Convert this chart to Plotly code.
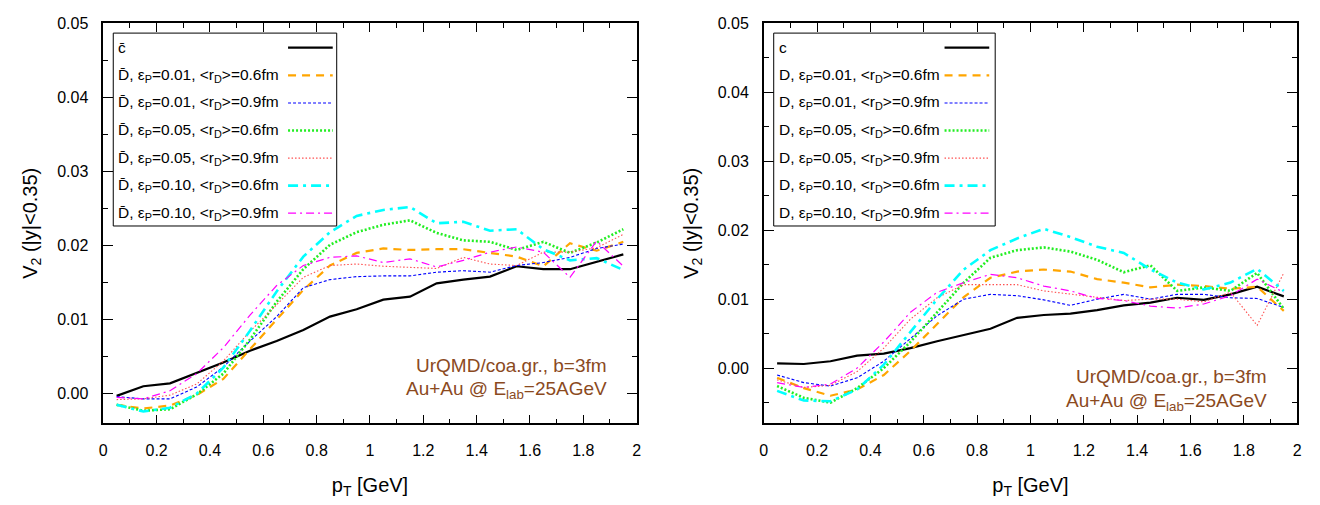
import plotly.graph_objects as go

pt = [0.05, 0.15, 0.25, 0.35, 0.45, 0.55, 0.65, 0.75, 0.85, 0.95,
      1.05, 1.15, 1.25, 1.35, 1.45, 1.55, 1.65, 1.75, 1.85, 1.95]

# Left panel: anti-charm / D-bar
cbar = [-0.0003, 0.0010, 0.0014, 0.0028, 0.0042, 0.0058, 0.0071, 0.0086, 0.0104, 0.0114,
        0.0127, 0.0131, 0.0149, 0.0154, 0.0158, 0.0172, 0.0168, 0.0168, 0.0178, 0.0188]
dbar_e01_r06 = [-0.0015, -0.0020, -0.0016, -0.0002, 0.0020, 0.0060, 0.0100, 0.0140, 0.0173, 0.0190,
                0.0196, 0.0194, 0.0195, 0.0195, 0.0190, 0.0185, 0.0172, 0.0203, 0.0193, 0.0205]
dbar_e01_r09 = [-0.0004, -0.0007, -0.0007, 0.0009, 0.0036, 0.0071, 0.0104, 0.0143, 0.0154, 0.0158,
                0.0159, 0.0159, 0.0164, 0.0166, 0.0164, 0.0173, 0.0177, 0.0184, 0.0196, 0.0202]
dbar_e05_r06 = [-0.0015, -0.0023, -0.0021, -0.0001, 0.0027, 0.0073, 0.0124, 0.0168, 0.0201, 0.0218,
                0.0228, 0.0234, 0.0217, 0.0207, 0.0205, 0.0194, 0.0205, 0.0190, 0.0204, 0.0222]
dbar_e05_r09 = [-0.0008, -0.0007, -0.0002, 0.0013, 0.0044, 0.0084, 0.0120, 0.0157, 0.0173, 0.0175,
                0.0172, 0.0171, 0.0169, 0.0184, 0.0175, 0.0173, 0.0191, 0.0191, 0.0197, 0.0215]
dbar_e10_r06 = [-0.0015, -0.0024, -0.0019, 0.0000, 0.0035, 0.0085, 0.0138, 0.0185, 0.0218, 0.0240,
                0.0248, 0.0252, 0.0230, 0.0232, 0.0220, 0.0222, 0.0195, 0.0180, 0.0183, 0.0167]
dbar_e10_r09 = [-0.0005, -0.0007, 0.0004, 0.0027, 0.0062, 0.0106, 0.0146, 0.0173, 0.0184, 0.0186,
                0.0177, 0.0182, 0.0171, 0.0180, 0.0191, 0.0198, 0.0191, 0.0157, 0.0206, 0.0172]

# Right panel: charm / D
c_q = [0.0007, 0.0006, 0.0010, 0.0018, 0.0021, 0.0029, 0.0039, 0.0048, 0.0057, 0.0073,
       0.0077, 0.0079, 0.0084, 0.0091, 0.0095, 0.0102, 0.0099, 0.0107, 0.0118, 0.0104]
d_e01_r06 = [-0.0014, -0.0029, -0.0040, -0.0031, -0.0010, 0.0025, 0.0064, 0.0103, 0.0131, 0.0140,
             0.0143, 0.0140, 0.0129, 0.0124, 0.0117, 0.0121, 0.0119, 0.0115, 0.0118, 0.0083]
d_e01_r09 = [-0.0010, -0.0021, -0.0026, -0.0014, 0.0010, 0.0043, 0.0076, 0.0100, 0.0107, 0.0105,
             0.0099, 0.0091, 0.0100, 0.0107, 0.0100, 0.0107, 0.0107, 0.0102, 0.0101, 0.0088]
d_e05_r06 = [-0.0026, -0.0043, -0.0050, -0.0029, 0.0000, 0.0038, 0.0081, 0.0124, 0.0160, 0.0171,
             0.0175, 0.0169, 0.0157, 0.0139, 0.0149, 0.0112, 0.0117, 0.0112, 0.0138, 0.0086]
d_e05_r09 = [-0.0017, -0.0028, -0.0025, -0.0005, 0.0029, 0.0071, 0.0102, 0.0121, 0.0121, 0.0121,
             0.0112, 0.0107, 0.0102, 0.0098, 0.0100, 0.0100, 0.0096, 0.0110, 0.0062, 0.0138]
d_e10_r06 = [-0.0033, -0.0047, -0.0048, -0.0031, 0.0005, 0.0052, 0.0100, 0.0143, 0.0171, 0.0188,
             0.0202, 0.0190, 0.0176, 0.0167, 0.0143, 0.0124, 0.0114, 0.0124, 0.0144, 0.0112]
d_e10_r09 = [-0.0021, -0.0028, -0.0023, 0.0000, 0.0038, 0.0081, 0.0110, 0.0124, 0.0136, 0.0131,
             0.0119, 0.0112, 0.0101, 0.0098, 0.0090, 0.0087, 0.0093, 0.0105, 0.0129, 0.0110]

eps_labels = ["0.01", "0.01", "0.05", "0.05", "0.10", "0.10"]
rd_labels = ["0.6", "0.9", "0.6", "0.9", "0.6", "0.9"]

styles = [
    dict(color="black", width=2.2, dash="solid"),
    dict(color="#FFA500", width=2.2, dash="8px,6px"),
    dict(color="#0000FF", width=1.1, dash="3px,2px"),
    dict(color="#22EE22", width=2.6, dash="2px,2px"),
    dict(color="#FF5050", width=1.1, dash="1.5px,2px"),
    dict(color="#00FFFF", width=2.6, dash="10px,5px,3px,5px"),
    dict(color="#FF00FF", width=1.2, dash="8px,4px,2px,4px"),
]

left_series = [cbar, dbar_e01_r06, dbar_e01_r09, dbar_e05_r06, dbar_e05_r09, dbar_e10_r06, dbar_e10_r09]
right_series = [c_q, d_e01_r06, d_e01_r09, d_e05_r06, d_e05_r09, d_e10_r06, d_e10_r09]


def names(particle, quark):
    out = [quark]
    for e, r in zip(eps_labels, rd_labels):
        out.append(f"{particle}, ε<sub>P</sub>={e}, &lt;r<sub>D</sub>&gt;={r}fm")
    return out


left_names = names("D\u0304", "c\u0304")
right_names = names("D", "c")

fig = go.Figure()
for i, (ys, nm) in enumerate(zip(left_series, left_names)):
    fig.add_trace(go.Scatter(x=pt, y=ys, mode="lines", name=nm, line=styles[i],
                             xaxis="x", yaxis="y", showlegend=False))
for i, (ys, nm) in enumerate(zip(right_series, right_names)):
    fig.add_trace(go.Scatter(x=pt, y=ys, mode="lines", name=nm, line=styles[i],
                             xaxis="x2", yaxis="y2", showlegend=False))

W, H = 1320, 505
ytop, ybot = 15.5, 422
ydom = [1 - ybot / H, 1 - ytop / H]
font = "Liberation Sans, Arial, Helvetica, sans-serif"
xdom1 = [100 / W, 637 / W]
xdom2 = [765 / W, 1302 / W]


def xaxis(dom, anchor):
    return dict(domain=dom, range=[0, 2], dtick=0.2, tick0=0, ticks="inside", ticklen=9,
                tickwidth=1, tickcolor="black", mirror="allticks", showline=True, anchor=anchor,
                linecolor="black", linewidth=1.5, showgrid=False, zeroline=False,
                minor=dict(dtick=0.1, ticks="inside", ticklen=5, tickcolor="black", showgrid=False),
                tickfont=dict(size=16, family=font, color="black"),
                ticklabelstandoff=12,
                title=dict(text="p<sub>T</sub> [GeV]", font=dict(size=20, family=font, color="black"),
                           standoff=20))


def yaxis(dom, lo, anchor):
    return dict(domain=dom, range=[lo, 0.05], dtick=0.01, tick0=0, tickformat=".2f",
                ticks="inside", ticklen=10, tickwidth=1, tickcolor="black", mirror="allticks",
                showline=True, linecolor="black", linewidth=1.5, showgrid=False, zeroline=False,
                minor=dict(dtick=0.005, ticks="inside", ticklen=5, tickcolor="black", showgrid=False),
                tickfont=dict(size=16, family=font, color="black"), anchor=anchor,
                ticklabelstandoff=10,
                title=dict(text="V<sub>2</sub> (|y|&lt;0.35)", font=dict(size=20, family=font, color="black"),
                           standoff=14))


def mirror_x(base, lo_anchor):
    return dict(overlaying=base, side="top", anchor=lo_anchor, range=[0, 2], dtick=0.1, tick0=0,
                ticks="inside", ticklen=5, tickcolor="black", showticklabels=False,
                showline=False, showgrid=False, zeroline=False)


def mirror_y(base, anchor, lo):
    return dict(overlaying=base, side="right", anchor=anchor, range=[lo, 0.05], dtick=0.005, tick0=0,
                ticks="inside", ticklen=5, tickcolor="black", showticklabels=False,
                showline=False, showgrid=False, zeroline=False)


brown = "#8B4A1E"
ann = []
shapes = []
for xr, yr, y1, y2 in [("x domain", "y domain", 0.145, 0.083), ("x2 domain", "y2 domain", 0.116, 0.054)]:
    ann.append(dict(text="UrQMD/coa.gr., b=3fm", xref=xr, yref=yr, x=0.948, y=y1,
                    xanchor="right", yanchor="middle", showarrow=False,
                    font=dict(size=19, family=font, color=brown)))
    ann.append(dict(text="Au+Au @ E<sub>lab</sub>=25AGeV", xref=xr, yref=yr, x=0.948, y=y2,
                    xanchor="right", yanchor="middle", showarrow=False,
                    font=dict(size=19, family=font, color=brown)))

# Key boxes (text on the left, line sample on the right, as in the original)
row_y = [40.3, 68.5, 96.5, 124.5, 152.5, 180.5, 208.5]
for labels, box_l, box_r, text_x, samp_l, samp_r in [
        (left_names, 110, 335, 113, 286, 331),
        (right_names, 775, 998, 778, 947, 992)]:
    shapes.append(dict(type="rect", xref="paper", yref="paper", x0=box_l / W, x1=box_r / W,
                       y0=1 - 221.5 / H, y1=1 - 25.5 / H, line=dict(color="black", width=1),
                       fillcolor="white", layer="above"))
    for i, lab in enumerate(labels):
        yc = 1 - row_y[i] / H
        ann.append(dict(text=lab, xref="paper", yref="paper", x=text_x / W, y=yc,
                        xanchor="left", yanchor="middle", showarrow=False,
                        font=dict(size=15.5, family=font, color="black")))
        shapes.append(dict(type="line", xref="paper", yref="paper", x0=samp_l / W, x1=samp_r / W,
                           y0=yc, y1=yc, line=styles[i], layer="above"))

fig.update_layout(
    width=W, height=H, margin=dict(l=0, r=0, t=0, b=0),
    plot_bgcolor="white", paper_bgcolor="white",
    xaxis=xaxis(xdom1, "y"),
    yaxis=yaxis(ydom, -0.004, "x"),
    xaxis2=xaxis(xdom2, "y2"),
    yaxis2=yaxis(ydom, -0.008, "x2"),
    xaxis3=mirror_x("x", "y"),
    yaxis3=mirror_y("y", "x", -0.004),
    xaxis4=mirror_x("x2", "y2"),
    yaxis4=mirror_y("y2", "x2", -0.008),
    annotations=ann,
    shapes=shapes,
    showlegend=False,
)

fig.write_html("out.html")
